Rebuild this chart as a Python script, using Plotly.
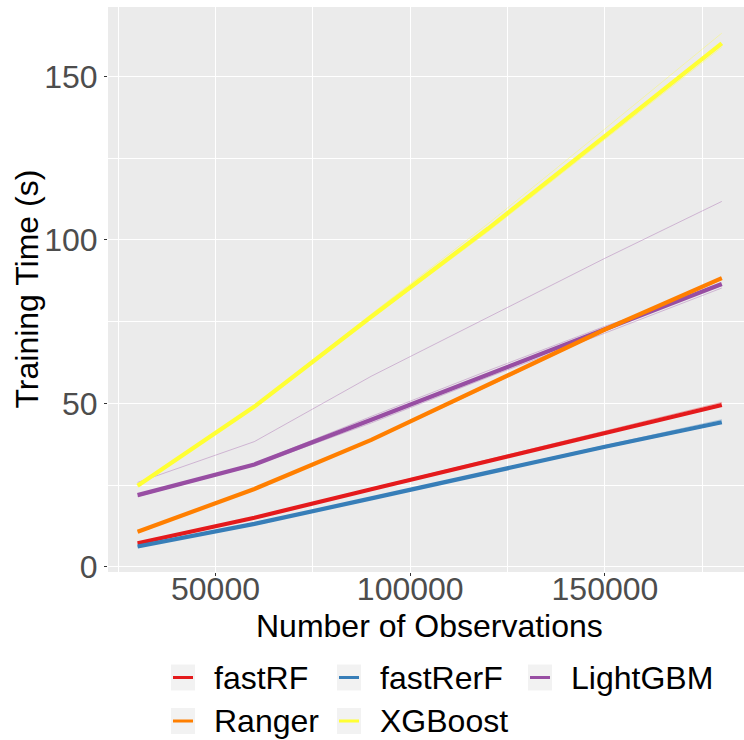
import plotly.graph_objects as go

# Training time benchmark: number of observations vs. training time (seconds)
n_obs = [30000, 60000, 90000, 120000, 150000, 180000]

algorithms = ["fastRF", "fastRerF", "LightGBM", "Ranger", "XGBoost"]
colors = {
    "fastRF": "#E41A1C",
    "fastRerF": "#377EB8",
    "LightGBM": "#984EA3",
    "Ranger": "#FF7F00",
    "XGBoost": "#FFFF33",
}

# mean training time per algorithm
mean_fastRF = [7.2, 15.0, 23.7, 32.4, 41.0, 49.5]
mean_fastRerF = [6.2, 13.1, 20.9, 28.8, 36.7, 44.2]
mean_LightGBM = [21.9, 31.3, 45.0, 58.8, 72.7, 86.5]
mean_Ranger = [10.7, 23.8, 38.8, 55.6, 72.6, 88.3]
mean_XGBoost = [24.8, 49.0, 76.5, 103.5, 131.8, 160.2]

# individual runs
runs_fastRF = [
    [7.3, 15.1, 24.0, 32.8, 41.6, 50.3],
    [7.1, 14.9, 23.5, 32.2, 40.8, 49.2],
]
runs_fastRerF = [
    [6.3, 13.2, 21.1, 29.2, 37.1, 45.0],
    [6.1, 13.0, 20.8, 28.6, 36.4, 43.9],
]
runs_LightGBM = [
    [25.8, 38.3, 58.3, 76.3, 94.4, 111.8],
    [21.5, 31.0, 44.0, 58.0, 71.5, 85.3],
    [22.0, 31.6, 46.0, 60.0, 73.6, 86.0],
]
runs_Ranger = [
    [10.8, 24.0, 39.0, 55.8, 72.8, 88.6],
    [10.6, 23.6, 38.5, 55.2, 72.2, 87.9],
]
runs_XGBoost = [
    [24.9, 49.3, 77.3, 105.0, 134.0, 163.3],
    [24.6, 48.6, 76.0, 102.6, 130.8, 159.0],
]

means = {
    "fastRF": mean_fastRF,
    "fastRerF": mean_fastRerF,
    "LightGBM": mean_LightGBM,
    "Ranger": mean_Ranger,
    "XGBoost": mean_XGBoost,
}
runs = {
    "fastRF": runs_fastRF,
    "fastRerF": runs_fastRerF,
    "LightGBM": runs_LightGBM,
    "Ranger": runs_Ranger,
    "XGBoost": runs_XGBoost,
}

x_ticks = [50000, 100000, 150000]
y_ticks = [0, 50, 100, 150]

FONT = "Liberation Sans, Arial, sans-serif"
W, H = 744, 740
M_L, M_R, M_T, M_B = 108, 0, 7, 168
PW, PH = W - M_L - M_R, H - M_T - M_B


def px_x(px):
    return (px - M_L) / PW


def px_y(py):
    return (H - M_B - py) / PH


def rgba(hex_color, alpha):
    h = hex_color.lstrip("#")
    r, g, b = int(h[0:2], 16), int(h[2:4], 16), int(h[4:6], 16)
    return f"rgba({r},{g},{b},{alpha})"


fig = go.Figure()

# faint individual runs
for alg in algorithms:
    for run in runs[alg]:
        fig.add_trace(go.Scatter(
            x=n_obs, y=run, mode="lines",
            line=dict(color=rgba(colors[alg], 0.35), width=1),
            showlegend=False, hoverinfo="skip",
        ))

# mean lines
for alg in algorithms:
    fig.add_trace(go.Scatter(
        x=n_obs, y=means[alg], mode="lines", name=alg,
        line=dict(color=colors[alg], width=4.2),
        showlegend=False,
    ))

fig.update_layout(
    width=W, height=H,
    margin=dict(l=M_L, r=M_R, t=M_T, b=M_B, pad=0),
    paper_bgcolor="white",
    plot_bgcolor="#EBEBEB",
    font=dict(family=FONT, size=32, color="black"),
    showlegend=False,
)

fig.update_xaxes(
    range=[22400, 185700],
    tickvals=x_ticks, ticktext=[str(v) for v in x_ticks],
    showgrid=True, gridcolor="white", gridwidth=1.4,
    minor=dict(dtick=25000, tick0=0, showgrid=True, gridcolor="white", gridwidth=0.6, ticks=""),
    ticks="outside", ticklen=3, tickcolor="#333333", tickwidth=1,
    tickfont=dict(family=FONT, size=32, color="#4D4D4D"),
    ticklabelstandoff=-14,
    zeroline=False, showline=False,
)
fig.update_yaxes(
    range=[-1.62, 171.3],
    tickvals=y_ticks, ticktext=[str(v) for v in y_ticks],
    showgrid=True, gridcolor="white", gridwidth=1.4,
    minor=dict(dtick=25, tick0=0, showgrid=True, gridcolor="white", gridwidth=0.6, ticks=""),
    ticks="outside", ticklen=3, tickcolor="#333333", tickwidth=1,
    tickfont=dict(family=FONT, size=32, color="#4D4D4D"),
    zeroline=False, showline=False,
)

annotations = [
    dict(text="Number of Observations", xref="paper", yref="paper",
         x=px_x(429.5), y=px_y(626), xanchor="center", yanchor="middle",
         showarrow=False, font=dict(family=FONT, size=32, color="black")),
    dict(text="Training Time (s)", xref="paper", yref="paper",
         x=px_x(26), y=px_y(289.5), xanchor="center", yanchor="middle",
         textangle=-90, showarrow=False,
         font=dict(family=FONT, size=32, color="black")),
]
shapes = []

# legend: two rows, three columns
key_left = [171, 337, 528]
row_center = [677.5, 721]
for i, alg in enumerate(algorithms):
    r, c = divmod(i, 3)
    kx, cy = key_left[c], row_center[r]
    shapes.append(dict(type="rect", xref="paper", yref="paper",
                       x0=px_x(kx), x1=px_x(kx + 24), y0=px_y(cy - 13), y1=px_y(cy + 13),
                       fillcolor="#F2F2F2", line=dict(width=0), layer="above"))
    shapes.append(dict(type="line", xref="paper", yref="paper",
                       x0=px_x(kx + 2), x1=px_x(kx + 22), y0=px_y(cy), y1=px_y(cy),
                       line=dict(color=colors[alg], width=3), layer="above"))
    annotations.append(dict(text=alg, xref="paper", yref="paper",
                            x=px_x(kx + 41), y=px_y(cy), xanchor="left", yanchor="middle",
                            showarrow=False,
                            font=dict(family=FONT, size=32, color="black")))

fig.update_layout(annotations=annotations, shapes=shapes)

fig.write_html("out.html")
